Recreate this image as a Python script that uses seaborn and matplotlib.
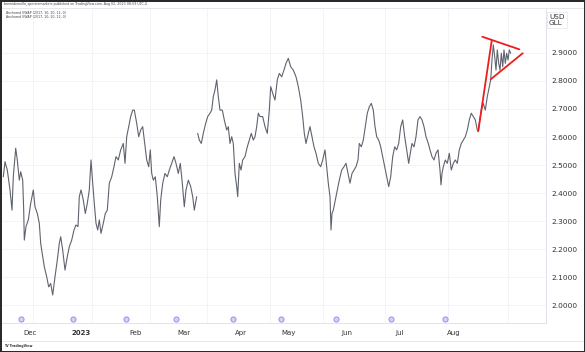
import numpy as np
import pandas as pd
import seaborn as sns
import matplotlib.pyplot as plt
from matplotlib.lines import Line2D
from matplotlib.transforms import blended_transform_factory

# session index along the time axis and price
# part 1: Nov .. early Feb (before the gap up)
bar_a = [3.3, 5.0, 7.3, 10.0, 12.0, 13.3, 15.7, 17.3, 19.3, 20.7, 22.7, 23.7, 24.3, 26.0,
         28.3, 30.7, 33.3, 35.0, 37.3, 39.3, 40.7, 42.7, 44.3, 46.7, 48.7, 50.7, 52.7, 55.0,
         57.3, 59.3, 60.7, 62.7, 65.0, 67.3, 69.3, 71.7, 74.0, 76.0, 78.0, 79.3, 81.0, 83.3,
         85.3, 87.3, 89.3, 91.0, 92.7, 94.3, 96.0, 97.7, 99.3, 101.0, 103.3, 105.3, 107.3,
         109.3, 111.7, 114.0, 116.0, 118.3, 120.7, 123.3, 125.0, 126.7, 128.7, 130.7, 132.7,
         134.3, 136.7, 138.7, 140.7, 142.7, 144.7, 146.7, 148.7, 150.3, 151.7, 153.3, 155.3,
         157.3, 159.3, 160.7, 162.7, 165.0, 167.3, 169.3, 171.7, 174.0, 176.0, 178.3, 180.3,
         182.3, 184.3, 186.0, 188.3, 190.7, 192.7, 194.3, 196.7]
price_a = [2.458, 2.512, 2.482, 2.411, 2.339, 2.458, 2.560, 2.518, 2.446, 2.476, 2.446, 2.339,
           2.232, 2.280, 2.304, 2.363, 2.411, 2.351, 2.327, 2.292, 2.220, 2.173, 2.137, 2.101,
           2.065, 2.077, 2.036, 2.101, 2.161, 2.220, 2.244, 2.196, 2.125, 2.173, 2.208, 2.232,
           2.268, 2.286, 2.280, 2.387, 2.411, 2.375, 2.327, 2.363, 2.411, 2.518, 2.435, 2.363,
           2.292, 2.268, 2.304, 2.256, 2.292, 2.327, 2.339, 2.435, 2.458, 2.494, 2.530, 2.518,
           2.554, 2.577, 2.506, 2.601, 2.637, 2.673, 2.696, 2.696, 2.649, 2.601, 2.625, 2.637,
           2.577, 2.518, 2.494, 2.554, 2.470, 2.446, 2.458, 2.387, 2.280, 2.375, 2.435, 2.470,
           2.458, 2.482, 2.506, 2.530, 2.506, 2.470, 2.506, 2.435, 2.351, 2.411, 2.446, 2.423,
           2.387, 2.339, 2.387]

# part 2: after the gap up to the pennant
bar_b = [197.7, 199.3, 201.3, 203.3, 205.7, 207.7, 210.0, 211.7, 213.3, 215.0, 216.7, 218.3,
         220.0, 222.3, 224.3, 226.7, 228.3, 230.0, 231.7, 233.3, 235.0, 236.7, 237.7, 239.3,
         241.0, 242.7, 245.0, 247.3, 249.3, 251.3, 253.3, 255.0, 256.7, 258.3, 260.0, 262.7,
         265.0, 267.3, 269.3, 270.7, 272.7, 275.0, 277.3, 279.3, 281.7, 284.0, 286.0, 288.3,
         290.7, 293.3, 296.0, 298.3, 300.7, 302.7, 304.3, 306.0, 308.3, 310.0, 312.0, 314.0,
         316.0, 318.3, 320.7, 322.7, 325.0, 326.7, 328.3, 330.0, 331.0, 332.0, 333.3, 335.3,
         337.3, 339.3, 341.7, 344.0, 346.0, 348.0, 350.0, 352.0, 354.0, 356.0, 358.0, 359.3,
         361.3, 363.3, 365.3, 367.3, 369.3, 371.3, 373.3, 375.0, 376.7, 378.7, 380.7, 382.7,
         384.7, 386.7, 388.7, 390.7, 392.7, 394.7, 396.7, 398.7, 400.7, 402.7, 404.7, 406.7,
         408.7, 410.3, 412.0, 414.0, 416.0, 418.0, 420.0, 422.0, 424.0, 426.0, 428.3, 430.0,
         432.0, 434.0, 436.0, 438.0, 440.0, 441.0, 442.0, 443.3, 445.3, 447.3, 449.3, 451.3,
         453.3, 455.3, 457.3, 459.3, 461.3, 463.3, 465.3, 467.3, 469.3, 471.3, 473.3, 475.3,
         477.3, 478.3, 479.3, 481.3, 483.3, 485.3, 487.3, 489.3, 490.7, 492.0, 493.3, 494.7,
         496.0, 497.3, 498.7, 500.0, 501.3, 502.7, 504.0, 505.3, 506.7, 508.0, 509.3, 510.7]
price_b = [2.613, 2.589, 2.577, 2.613, 2.649, 2.673, 2.685, 2.696, 2.744, 2.768, 2.804, 2.744,
           2.696, 2.696, 2.661, 2.625, 2.637, 2.577, 2.601, 2.577, 2.470, 2.423, 2.387, 2.506,
           2.482, 2.518, 2.530, 2.565, 2.589, 2.613, 2.589, 2.601, 2.637, 2.685, 2.673, 2.673,
           2.637, 2.613, 2.696, 2.780, 2.756, 2.732, 2.804, 2.827, 2.815, 2.839, 2.863, 2.881,
           2.851, 2.839, 2.815, 2.780, 2.732, 2.673, 2.613, 2.577, 2.613, 2.637, 2.601, 2.565,
           2.542, 2.506, 2.494, 2.518, 2.554, 2.494, 2.435, 2.387, 2.268, 2.327, 2.339, 2.375,
           2.411, 2.446, 2.482, 2.494, 2.506, 2.470, 2.435, 2.470, 2.482, 2.494, 2.518, 2.577,
           2.565, 2.589, 2.637, 2.685, 2.708, 2.720, 2.696, 2.637, 2.601, 2.589, 2.565, 2.530,
           2.494, 2.458, 2.423, 2.458, 2.530, 2.565, 2.554, 2.577, 2.637, 2.661, 2.601, 2.554,
           2.506, 2.542, 2.577, 2.565, 2.601, 2.661, 2.673, 2.661, 2.637, 2.601, 2.577, 2.554,
           2.530, 2.518, 2.542, 2.554, 2.482, 2.429, 2.470, 2.494, 2.518, 2.506, 2.542, 2.482,
           2.506, 2.518, 2.506, 2.554, 2.577, 2.589, 2.601, 2.625, 2.661, 2.685, 2.673, 2.661,
           2.625, 2.619, 2.649, 2.696, 2.720, 2.696, 2.744, 2.780, 2.804, 2.875, 2.929, 2.887,
           2.839, 2.911, 2.863, 2.839, 2.899, 2.851, 2.911, 2.863, 2.899, 2.875, 2.911, 2.899]

# hand drawn trend lines (pole + pennant), start/end as (bar, price)
pole_bar = [478.3, 491.7]
pole_price = [2.622, 2.944]
upper_bar = [482.3, 519.3]
upper_price = [2.958, 2.913]
lower_bar = [490.7, 522.7]
lower_price = [2.806, 2.899]

month_labels = ["Dec", "2023", "Feb", "Mar", "Apr", "May", "Jun", "Jul", "Aug"]
month_bar = [30, 81, 135, 184, 241, 289, 347, 400, 454]
grid_bar = [33, 92, 150, 207, 270, 323, 385, 448, 508]
event_bar = [21, 73, 126, 176, 233, 281, 336, 391, 445]
price_ticks = [2.0, 2.1, 2.2, 2.3, 2.4, 2.5, 2.6, 2.7, 2.8, 2.9]

df = pd.concat([
    pd.DataFrame({"bar": bar_a, "price": price_a, "part": "a"}),
    pd.DataFrame({"bar": bar_b, "price": price_b, "part": "b"}),
])

sns.set_theme(style="white")
plt.rcParams["font.family"] = ["DejaVu Sans"]

W, H = 585, 352
fig = plt.figure(figsize=(W / 100, H / 100), dpi=100)
fig.patch.set_facecolor("white")
fig.patch.set_edgecolor("#2a2a2a")
fig.patch.set_linewidth(2.0)

# main pane: x 2..546 px, y 9..323 px
ax = fig.add_axes([2 / W, (H - 323) / H, 544 / W, (323 - 9) / H])
sns.lineplot(data=df, x="bar", y="price", units="part", estimator=None,
             color="#5f636e", linewidth=0.8, ax=ax)
ax.plot(pole_bar, pole_price, color="#f01c1c", lw=1.3, solid_capstyle="round")
ax.plot(upper_bar, upper_price, color="#f01c1c", lw=1.3, solid_capstyle="round")
ax.plot(lower_bar, lower_price, color="#f01c1c", lw=1.3, solid_capstyle="round")

ax.set_xlim(2, 546)
ax.set_ylim(1.936, 3.057)
ax.set_xlabel("")
ax.set_ylabel("")

ax.yaxis.tick_right()
ax.set_yticks(price_ticks)
ax.set_yticklabels([f"{v:.4f}" for v in price_ticks])
ax.tick_params(axis="y", length=0, pad=4, labelsize=5.3, labelcolor="#333333")
ax.set_xticks(month_bar)
ax.set_xticklabels(month_labels)
ax.tick_params(axis="x", length=0, pad=5, labelsize=5.0, labelcolor="#333333")
for lab in ax.get_xticklabels():
    if lab.get_text() == "2023":
        lab.set_fontweight("bold")

ax.set_xticks(grid_bar, minor=True)
ax.grid(False)
ax.grid(which="minor", axis="x", color="#f2f3f7", lw=0.6)
ax.grid(which="major", axis="y", color="#f2f3f7", lw=0.6)

for s in ["top", "left"]:
    ax.spines[s].set_visible(False)
for s in ["right", "bottom"]:
    ax.spines[s].set_color("#e0e3eb")
    ax.spines[s].set_linewidth(0.7)

# event icons above the time axis
trans = blended_transform_factory(ax.transData, ax.transAxes)
ax.scatter(event_bar, [0.012] * len(event_bar), s=14, marker="o",
           facecolor="#d9ccff", edgecolor="#9b7cf2", linewidth=0.6,
           transform=trans, clip_on=False, zorder=5)

# header, legend lines, currency box, footer
fig.add_artist(Line2D([2 / W, 583 / W], [(H - 7.5) / H] * 2, color="#e0e3eb", lw=0.6))
fig.add_artist(Line2D([2 / W, 583 / W], [(H - 341) / H] * 2, color="#e0e3eb", lw=0.6))
fig.text(4 / W, 1 - 4.5 / H,
         "bremidemello_spectramarkets published on TradingView.com, Aug 02, 2023 08:59 UTC-4",
         fontsize=2.3, color="#444444", va="center")
fig.text(6 / W, 1 - 12.5 / H, "Anchored VWAP (2017, 10, 10, 12, 0)",
         fontsize=2.3, color="#444444", va="center")
fig.text(6 / W, 1 - 16.8 / H, "Anchored VWAP (2017, 10, 10, 12, 0)",
         fontsize=2.3, color="#444444", va="center")
fig.text(549 / W, 1 - 20 / H, "USD\nGLL", fontsize=5.2, color="#333333",
         va="center", ha="left", linespacing=1.0,
         bbox=dict(boxstyle="square,pad=0.3", fc="white", ec="#e6e6e6", lw=0.5))
fig.text(4 / W, 1 - 346 / H, "TV TradingView", fontsize=2.3, color="#333333",
         va="center", fontweight="bold")

fig.savefig("out.png", dpi=100)
